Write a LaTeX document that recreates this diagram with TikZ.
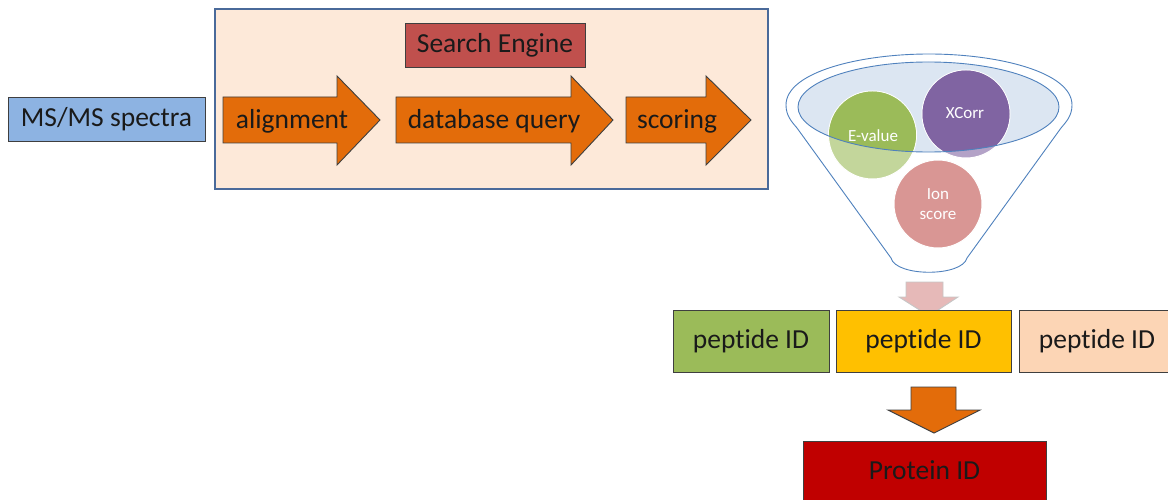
\documentclass[tikz,border=0pt]{standalone}
\usepackage{fontspec}
\setmainfont{Carlito}[Ligatures={CommonOff}]
\definecolor{msblue}{HTML}{8DB3E2}
\definecolor{panelfill}{HTML}{FDE9D9}
\definecolor{panelline}{HTML}{4A6A9A}
\definecolor{enginered}{HTML}{C0504D}
\definecolor{steporange}{HTML}{E36C0A}
\definecolor{edgegray}{HTML}{3F3F3F}
\definecolor{funnelblue}{HTML}{4F81BD}
\definecolor{bowlfill}{HTML}{DCE6F2}
\definecolor{evgreen}{HTML}{9BBB59}
\definecolor{evlight}{HTML}{C3D69B}
\definecolor{xcpurple}{HTML}{8064A2}
\definecolor{xclight}{HTML}{B3A2C7}
\definecolor{ionpink}{HTML}{D99694}
\definecolor{dropfill}{HTML}{E6B9B8}
\definecolor{pepyellow}{HTML}{FFC000}
\definecolor{pepbeige}{HTML}{FCD5B5}
\definecolor{protred}{HTML}{C00000}
\definecolor{ink}{HTML}{1A1A1A}
\tikzset{
  flatbox/.style={draw=edgegray, line width=0.9pt},
  blockarrow/.style={draw=edgegray, line width=0.9pt, fill=steporange},
  label/.style={font=\fontsize{27.5}{30}\selectfont, text=ink, inner sep=0pt},
  badge/.style={font=\fontsize{17}{20}\selectfont, text=white, inner sep=0pt, align=center},
}
\begin{document}
\begin{tikzpicture}[x=1pt, y=-1pt]
\useasboundingbox (0,0) rectangle (1168,500);

% input spectra
\draw[flatbox, fill=msblue] (8,97) rectangle (205,141);
\node[label] (spectra) at (106.5,119) {MS/MS spectra};

% search engine panel
\draw[draw=panelline, line width=2pt, fill=panelfill] (215,9) rectangle (768,189);
\draw[flatbox, fill=enginered] (405,23) rectangle (585,67);
\node[label] (engine) at (495,45) {Search Engine};

% pipeline steps
\draw[blockarrow] (223,97) -- (337,97) -- (337,76) -- (380,120) -- (337,165) -- (337,143) -- (223,143) -- cycle;
\node[label] (align) at (292,121) {alignment};
\draw[blockarrow] (396,97) -- (571,97) -- (571,76) -- (613,120) -- (571,165) -- (571,143) -- (396,143) -- cycle;
\node[label] (query) at (494,121) {database query};
\draw[blockarrow] (626,97) -- (706,97) -- (706,76) -- (751,120) -- (706,165) -- (706,143) -- (626,143) -- cycle;
\node[label] (scoring) at (677,121) {scoring};

% funnel body
\draw[funnelblue, line width=0.9pt, fill=white]
  (786,105) .. controls (786,72) and (860,54) .. (929,54)
  .. controls (998,54) and (1072,72) .. (1072,105)
  .. controls (1072,116) and (1066,122) .. (1061,128)
  -- (967,258) .. controls (962,277) and (896,277) .. (891,258)
  -- (797,128) .. controls (792,122) and (786,116) .. (786,105) -- cycle;
\fill[bowlfill] (928.5,107) ellipse [x radius=130.5, y radius=45];

% score circles
\draw[white, line width=1pt, fill=evlight] (872.5,135) circle [radius=44];
\draw[white, line width=1pt, fill=xclight] (966,114) circle [radius=44];
\draw[white, line width=1pt, fill=ionpink] (938,204) circle [radius=44];
\begin{scope}
  \clip (928.5,107) ellipse [x radius=130.5, y radius=45];
  \fill[evgreen] (872.5,135) circle [radius=43.5];
  \fill[xcpurple] (966,114) circle [radius=43.5];
\end{scope}
\draw[funnelblue, line width=0.9pt] (928.5,107) ellipse [x radius=130.5, y radius=45];
\node[badge] (evalue) at (873,136) {E-value};
\node[badge] (xcorr) at (965,113) {XCorr};
\node[badge] (ion) at (938,204) {Ion\\score};

% drop from funnel
\draw[draw=gray!45, line width=0.9pt, fill=dropfill]
  (906,282) -- (943,282) -- (943,297) -- (958,297) -- (929,316) -- (899,297) -- (906,297) -- cycle;

% peptide identifications
\draw[flatbox, fill=evgreen] (673,310) rectangle (829,372);
\node[label] (pep1) at (751,341) {peptide ID};
\draw[flatbox, fill=pepyellow] (836,310) rectangle (1011,372);
\node[label] (pep2) at (923.5,341) {peptide ID};
\draw[flatbox, fill=pepbeige] (1019,310) rectangle (1175,372);
\node[label] (pep3) at (1097,341) {peptide ID};

% protein inference
\draw[blockarrow] (911,387) -- (956,387) -- (956,410) -- (980,410) -- (934,433) -- (888,410) -- (911,410) -- cycle;
\draw[flatbox, fill=protred] (803,441) rectangle (1046,505);
\node[label] (protein) at (924.5,470) {Protein ID};
\end{tikzpicture}
\end{document}
